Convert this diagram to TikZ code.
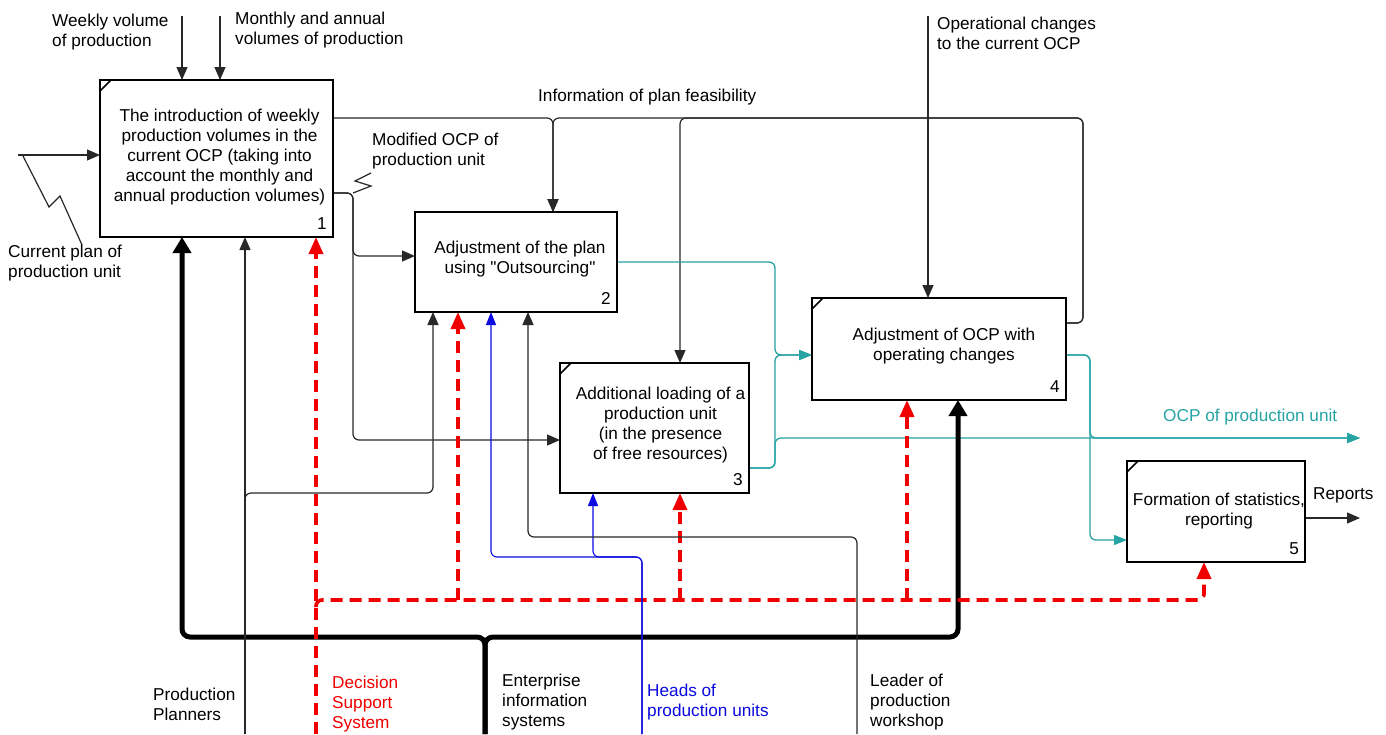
\documentclass[tikz,border=0pt]{standalone}
\usepackage{fontspec}
\setmainfont{Liberation Sans}[Ligatures=TeXOff]
\usetikzlibrary{arrows.meta}
\definecolor{tealc}{RGB}{38,164,164}
\definecolor{redc}{RGB}{240,0,0}
\definecolor{bluec}{RGB}{10,10,225}
\definecolor{ink}{RGB}{40,40,40}
\begin{document}
\begin{tikzpicture}[x=1pt,y=-1pt,
 font=\fontsize{17.2}{20}\selectfont,
 box/.style={draw=black, line width=2.6pt, inner sep=0pt, outer sep=0pt},
 conn/.style={draw=ink, line width=1.2pt, rounded corners=6pt, -{Triangle[length=13pt,width=11pt]}},
 plainln/.style={draw=ink, line width=1.2pt},
 tealln/.style={draw=tealc, line width=1.3pt, rounded corners=6pt, -{Triangle[length=13pt,width=10pt]}},
 blueln/.style={draw=bluec, line width=1.1pt, rounded corners=6pt, -{Triangle[length=13pt,width=10pt]}},
 heavy/.style={draw=black, line width=5pt, rounded corners=8pt, -{Triangle[length=16pt,width=18pt]}},
 dss/.style={draw=redc, line width=3.6pt, dash pattern=on 12pt off 7pt, rounded corners=6pt, -{Triangle[length=17pt,width=14pt]}},
 lbl/.style={align=left, anchor=west, inner sep=0pt},
 btxt/.style={align=center, inner sep=0pt},
 num/.style={anchor=base east, inner sep=0pt},
 tick/.style={draw=black, line width=1.6pt},
]
\useasboundingbox (0,0) rectangle (1386,734);
\fill[white] (0,0) rectangle (1386,734);

% boxes (placed first for anchors)
\node[box, minimum width=233pt, minimum height=157pt] (b1) at (216.5,158.5) {};
\node[box, minimum width=202pt, minimum height=100pt] (b2) at (516,262) {};
\node[box, minimum width=189pt, minimum height=130pt] (b3) at (654.5,428) {};
\node[box, minimum width=254pt, minimum height=102pt] (b4) at (939,349) {};
\node[box, minimum width=178pt, minimum height=101pt] (b5) at (1216,511.5) {};

% free ends
\coordinate (inW) at (182,16);
\coordinate (inM) at (220,16);
\coordinate (inC) at (18,155);
\coordinate (inO) at (928,16);
\coordinate (outOCP) at (1360,438);
\coordinate (outRep) at (1360,518);
\coordinate (mPP) at (245,734);
\coordinate (mDSS) at (316,734);
\coordinate (mEIS) at (485,734);
\coordinate (mHPU) at (642,734);
\coordinate (mLPW) at (857,734);

% inputs
\draw[conn] (inW) -- (inW |- b1.north);
\draw[conn] (inM) -- (inM |- b1.north);
\draw[conn] (inC) -- (inC -| b1.west);
\draw[plainln] (23,156) -- (49,207) -- (60,196) -- (82,245);

% box 1 output
\draw[conn] (b1.east |- 0,193) -- (353,193) -- (353,256) -- (b2.west |- 0,256);
\draw[conn] (b1.east |- 0,193) -- (353,193) -- (353,440) -- (b3.west |- 0,440);
\draw[plainln] (353,193) -- (371,186) -- (355,181) -- (371,173);

% feedback from box 4
\draw[conn] (b4.east |- 0,323) -- (1083,323) -- (1083,118) -- (680,118) -- (b3.north -| 680,0);
\draw[conn] (b4.east |- 0,323) -- (1083,323) -- (1083,118) -- (553,118) -- (b2.north -| 553,0);
\draw[conn] (b1.east |- 0,118) -- (553,118) -- (b2.north -| 553,0);

% operational changes
\draw[conn] (inO) -- (inO |- b4.north);

% teal outputs
\draw[tealln] (b2.east |- 0,262) -- (775,262) -- (775,355) -- (b4.west |- 0,355);
\draw[tealln] (b3.east |- 0,468) -- (775,468) -- (775,355) -- (b4.west |- 0,355);
\draw[tealln] (b3.east |- 0,468) -- (775,468) -- (775,438) -- (outOCP);
\draw[tealln] (b4.east |- 0,355) -- (1090,355) -- (1090,540) -- (b5.west |- 0,540);
\draw[tealln] (b4.east |- 0,355) -- (1090,355) -- (1090,438) -- (outOCP);

% reports
\draw[conn] (b5.east |- 0,518) -- (outRep);

% mechanisms
\draw[heavy] (mEIS) -- (485,637) -| (b1.south -| 182,0);
\draw[heavy] (mEIS) -- (485,637) -| (b4.south -| 958,0);
\draw[conn] (mPP) -- (mPP |- b1.south);
\draw[conn] (mPP) -- (245,493) -- (433,493) -- (b2.south -| 433,0);
\draw[dss] (mDSS) -- (mDSS |- b1.south);
\draw[dss] (316,607) -- (316,600) -- (1204,600) -- (b5.south -| 1204,0);
\draw[dss] (458,600) -- (b2.south -| 458,0);
\draw[dss] (680,600) -- (b3.south -| 680,0);
\draw[dss] (907,600) -- (b4.south -| 907,0);
\draw[blueln] (mHPU) -- (642,557) -- (491,557) -- (b2.south -| 491,0);
\draw[blueln] (mHPU) -- (642,557) -- (593,557) -- (b3.south -| 593,0);
\draw[conn] (mLPW) -- (857,537) -- (528,537) -- (b2.south -| 528,0);

% redraw box outlines on top
\foreach \b in {b1,b2,b3,b4,b5} {\draw[line width=2.6pt] (\b.north west) rectangle (\b.south east);}
\foreach \b in {b1,b3,b4,b5} {\draw[tick] ([yshift=-11pt]\b.north west) -- ([xshift=11pt]\b.north west);}

% box texts
\node[btxt] (t1) at ([xshift=3pt,yshift=1.5pt]b1.center) {The introduction of weekly\\production volumes in the\\current OCP (taking into\\account the monthly and\\annual production volumes)};
\node[btxt] (t2) at ([xshift=4pt,yshift=3pt]b2.center) {Adjustment of the plan\\using "Outsourcing"};
\node[btxt] (t3) at ([xshift=6pt,yshift=3pt]b3.center) {Additional loading of a\\production unit\\(in the presence\\of free resources)};
\node[btxt] (t4) at ([xshift=5pt,yshift=3pt]b4.center) {Adjustment of OCP with\\operating changes};
\node[btxt] (t5) at ([xshift=3pt]b5.center) {Formation of statistics,\\reporting};
\node[num] (n1) at ([xshift=-6pt,yshift=8pt]b1.south east) {1};
\node[num] (n2) at ([xshift=-6pt,yshift=8pt]b2.south east) {2};
\node[num] (n3) at ([xshift=-6pt,yshift=8pt]b3.south east) {3};
\node[num] (n4) at ([xshift=-6pt,yshift=8pt]b4.south east) {4};
\node[num] (n5) at ([xshift=-6pt,yshift=8pt]b5.south east) {5};

% labels
\node[lbl] (lW) at (52,32) {Weekly volume\\of production};
\node[lbl] (lM) at (235,30) {Monthly and annual\\volumes of production};
\node[lbl] (lC) at (8,263) {Current plan of\\production unit};
\node[lbl] (lMod) at (372,151) {Modified OCP of\\production unit};
\node[lbl] (lInf) at (538,97) {Information of plan feasibility};
\node[lbl] (lOp) at (937,33) {Operational changes\\to the current OCP};
\node[lbl, text=tealc] (lOCP) at (1163,417) {OCP of production unit};
\node[lbl] (lRep) at (1313,495) {Reports};
\node[lbl] (lPP) at (153,704) {Production\\Planners};
\node[lbl, text=redc] (lDSS) at (332,704) {Decision\\Support\\System};
\node[lbl] (lEIS) at (502,702) {Enterprise\\information\\systems};
\node[lbl, text=bluec] (lHPU) at (647,702) {Heads of\\production units};
\node[lbl] (lLPW) at (870,702) {Leader of\\production\\workshop};
\end{tikzpicture}
\end{document}
